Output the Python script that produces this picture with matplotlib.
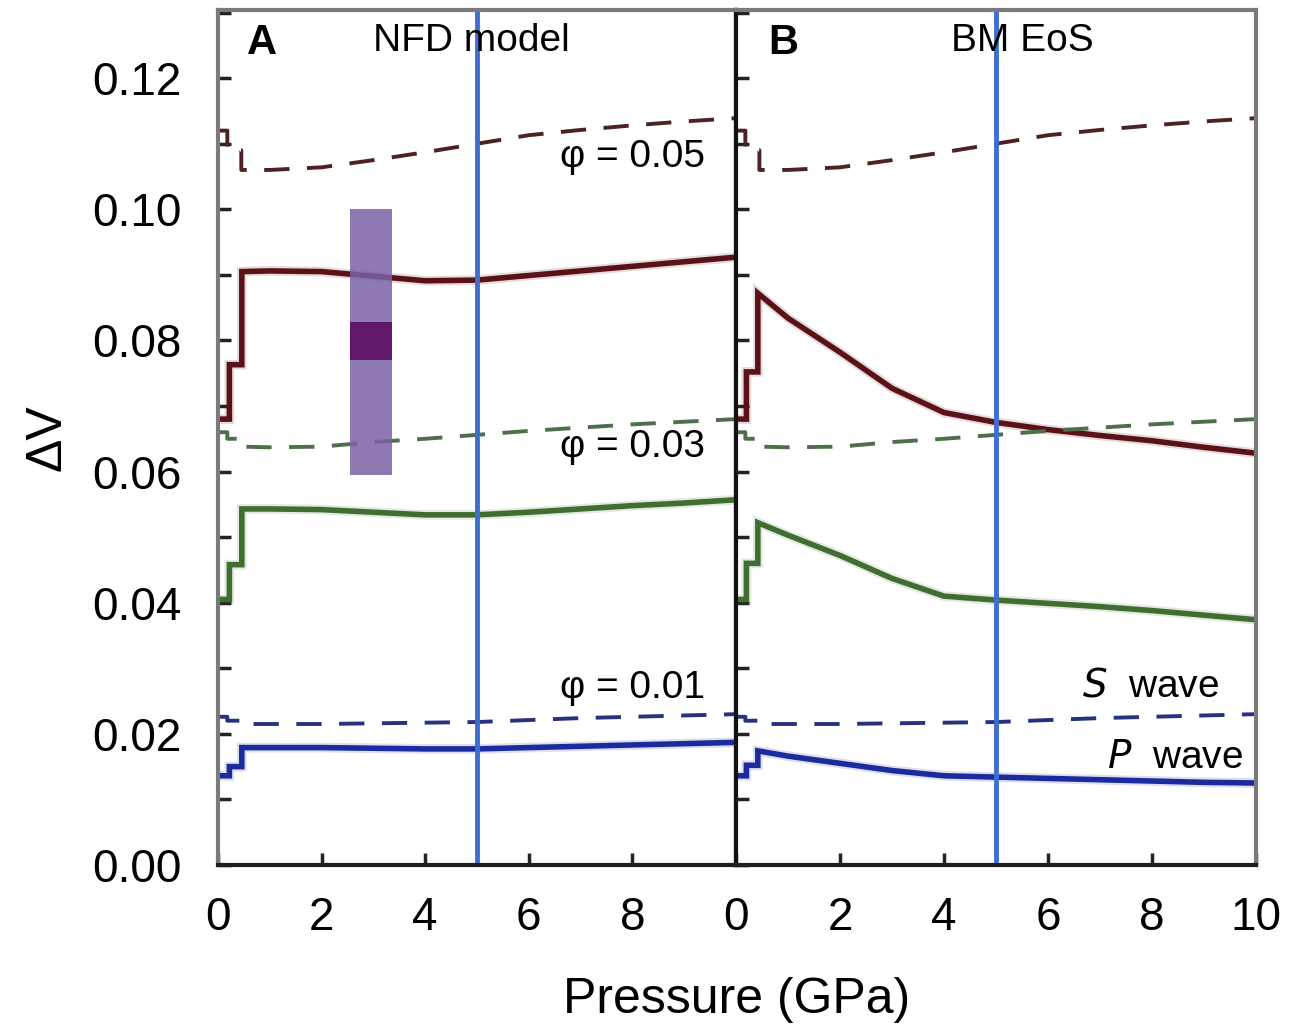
import matplotlib.pyplot as plt
from matplotlib.patches import Rectangle
from matplotlib.ticker import MultipleLocator, FormatStrFormatter

plt.rcParams['font.family'] = ['Liberation Sans', 'DejaVu Sans']

# dashed curves (S wave), identical in both panels
p_dash = [0.0, 0.18, 0.18, 0.45, 0.45, 1, 2, 3, 4, 5, 6, 7, 8, 9, 10]
s05 = [0.1120, 0.1120, 0.1090, 0.1090, 0.1060, 0.1060, 0.1064, 0.1075, 0.1087,
       0.1100, 0.1113, 0.1121, 0.1128, 0.1134, 0.1139]
s03 = [0.0660, 0.0660, 0.0650, 0.0650, 0.0638, 0.0637, 0.0638, 0.0645, 0.0650,
       0.0656, 0.0662, 0.0667, 0.0672, 0.0676, 0.0680]
s01 = [0.0226, 0.0226, 0.0220, 0.0220, 0.0215, 0.0215, 0.0215, 0.0216, 0.0217,
       0.0218, 0.0221, 0.0224, 0.0226, 0.0228, 0.0230]

# solid curves (P wave), panel A: NFD model
p_sol = [0.05, 0.22, 0.22, 0.46, 0.46, 1, 2, 3, 4, 5, 6, 7, 8, 9, 10]
a05 = [0.0680, 0.0680, 0.0763, 0.0763, 0.0905, 0.0906, 0.0905, 0.0898, 0.0891,
       0.0892, 0.0899, 0.0906, 0.0913, 0.0920, 0.0927]
a03 = [0.0405, 0.0405, 0.0458, 0.0458, 0.0543, 0.0543, 0.0542, 0.0538, 0.0534,
       0.0534, 0.0538, 0.0543, 0.0548, 0.0552, 0.0557]
a01 = [0.0136, 0.0136, 0.0150, 0.0150, 0.0179, 0.0179, 0.0179, 0.0178, 0.0177,
       0.0177, 0.0179, 0.0181, 0.0183, 0.0185, 0.0187]

# panel B: BM EoS
p_solb = [0.05, 0.2, 0.2, 0.42, 0.42, 1, 2, 3, 4, 5, 6, 7, 8, 9, 10]
b05 = [0.0680, 0.0680, 0.0752, 0.0752, 0.0872, 0.0834, 0.0782, 0.0727, 0.0690,
       0.0675, 0.0664, 0.0655, 0.0647, 0.0637, 0.0628]
b03 = [0.0405, 0.0405, 0.0460, 0.0460, 0.0522, 0.0503, 0.0472, 0.0437, 0.0410,
       0.0404, 0.0399, 0.0394, 0.0388, 0.0381, 0.0374]
b01 = [0.0136, 0.0136, 0.0152, 0.0152, 0.0174, 0.0166, 0.0155, 0.0144, 0.0136,
       0.0134, 0.0132, 0.0130, 0.0128, 0.0126, 0.0125]

p_line = 5.0
box_p = [2.55, 3.35]
box_v = [0.0595, 0.1000]
core_v = [0.0770, 0.0828]

maroon, green, blue = '#5a1218', '#3f6e30', '#1b2a9c'
dmaroon, dgreen, dblue = '#4e2224', '#4f6e4c', '#26327e'
vline = '#3d6fd0'

fig = plt.figure(figsize=(12.96, 10.28), dpi=100)
axA = fig.add_axes([0.1682, 0.1586, 0.3997, 0.8317])
axB = fig.add_axes([0.5679, 0.1586, 0.4012, 0.8317], sharey=axA)

for ax, ps, curves in [(axA, p_sol, (a05, a03, a01)), (axB, p_solb, (b05, b03, b01))]:
    for v, c in zip(curves, (maroon, green, blue)):
        ax.plot(ps, v, color=c, lw=7, alpha=0.15, solid_joinstyle='miter')
        ax.plot(ps, v, color=c, lw=4, solid_joinstyle='miter')
    for v, c in zip((s05, s03, s01), (dmaroon, dgreen, dblue)):
        ax.plot(p_dash, v, color=c, lw=2.8, dashes=(6.5, 4.5))
    ax.axvline(p_line, color=vline, lw=3.5)
    ax.set_xlim(0, 10)
    ax.set_ylim(0, 0.1304)
    ax.yaxis.set_major_locator(MultipleLocator(0.02))
    ax.yaxis.set_minor_locator(MultipleLocator(0.01))
    ax.yaxis.set_major_formatter(FormatStrFormatter('%.2f'))
    ax.tick_params(axis='both', which='both', direction='in', length=9, width=2.5,
                   labelsize=33, color='#222222', top=False, right=False)
    ax.tick_params(axis='x', pad=22)
    ax.tick_params(axis='y', pad=26)
    for s in ax.spines.values():
        s.set_linewidth(3)
        s.set_color('#7a7a7a')
    ax.spines['bottom'].set_color('#1e1e1e')

axA.spines['right'].set_color('#111111')
axB.spines['left'].set_color('#111111')

axA.add_patch(Rectangle((box_p[0], box_v[0]), box_p[1] - box_p[0], box_v[1] - box_v[0],
                        facecolor='#7a62a6', edgecolor='none', alpha=0.85, zorder=3))
axA.add_patch(Rectangle((box_p[0], core_v[0]), box_p[1] - box_p[0], core_v[1] - core_v[0],
                        facecolor='#62186a', edgecolor='none', zorder=4))

axA.set_xticks([0, 2, 4, 6, 8])
axB.set_xticks([0, 2, 4, 6, 8, 10])
plt.setp(axB.get_yticklabels(), visible=False)

axA.text(0.085, 0.985, 'A', transform=axA.transAxes, fontsize=30, fontweight='bold',
         ha='center', va='top')
axA.text(0.49, 0.985, 'NFD model', transform=axA.transAxes, fontsize=28,
         ha='center', va='top')
axB.text(0.09, 0.985, 'B', transform=axB.transAxes, fontsize=30, fontweight='bold',
         ha='center', va='top')
axB.text(0.55, 0.985, 'BM EoS', transform=axB.transAxes, fontsize=28,
         ha='center', va='top')

for v, t in [(0.1080, 'φ = 0.05'), (0.0637, 'φ = 0.03'), (0.0270, 'φ = 0.01')]:
    axA.text(8.0, v, t, fontsize=28, ha='center', va='center')
axB.text(9.3, 0.0272, '$S$  wave', fontsize=28, ha='right', va='center',
         math_fontfamily='dejavusans')
axB.text(9.75, 0.0163, '$P$  wave', fontsize=28, ha='right', va='center',
         math_fontfamily='dejavusans')

axA.set_ylabel('ΔV', fontsize=36, labelpad=16)
fig.text(0.5686, 0.027, 'Pressure (GPa)', fontsize=36, ha='center', va='center')

fig.savefig('out.png', dpi=100)
